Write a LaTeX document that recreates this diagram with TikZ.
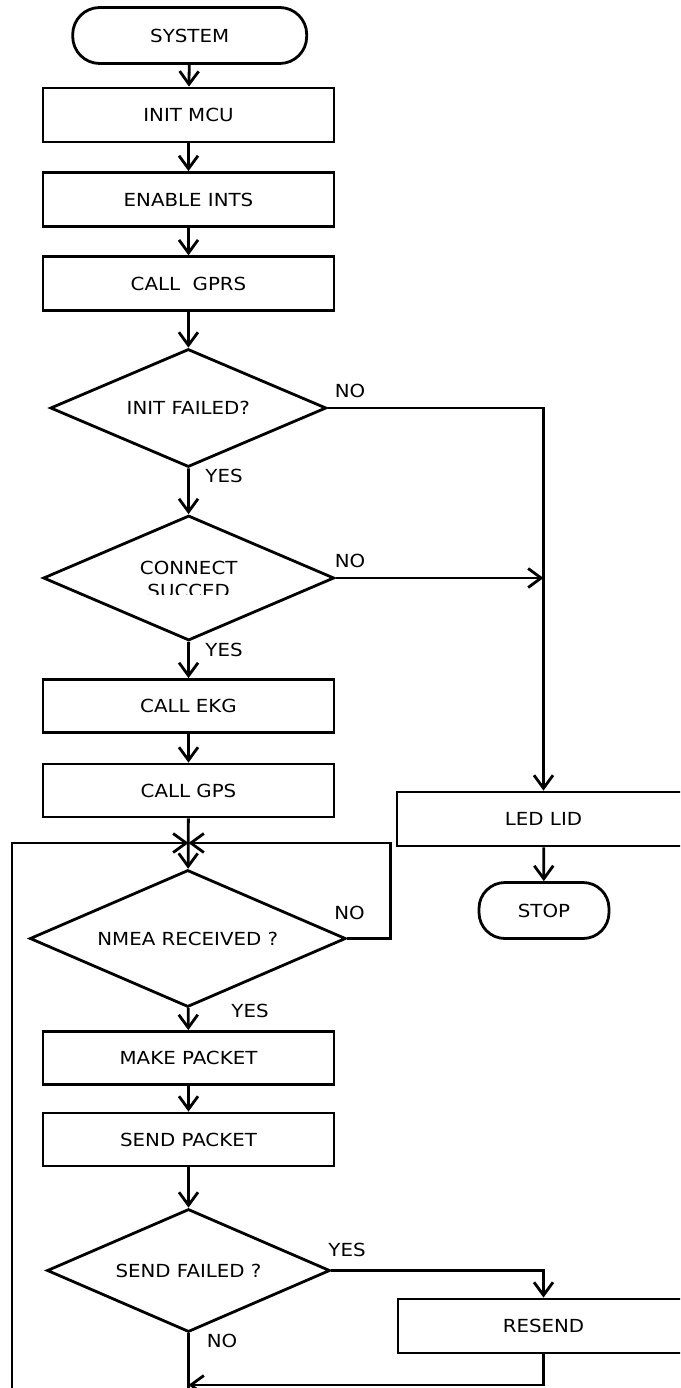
\documentclass[tikz,border=0pt]{standalone}
\usepackage{fontspec}
\setmainfont{DejaVu Sans}[FakeStretch=1.1]
\usetikzlibrary{arrows.meta,shapes.geometric}
\begin{document}
\begin{tikzpicture}[x=1pt,y=-1pt,
  font=\fontsize{18}{22}\selectfont,
  every node/.style={inner sep=0pt},
  edge/.style={line width=2.8pt},
  flow/.style={edge,-{Straight Barb[length=13pt,width=19pt]}},
  shapebase/.style={draw,line width=2.8pt,fill=white},
  procbox/.style={shapebase,rectangle,minimum width=291pt,minimum height=54pt},
  termbox/.style={shapebase,rectangle,rounded corners=27pt,minimum height=56pt},
  decision/.style={shapebase,diamond,aspect=2.3},
  lbl/.style={anchor=center}
]
\useasboundingbox (0,0) rectangle (680,1388);
\fill[white] (0,0) rectangle (680,1388);
\clip (0,0) rectangle (680,1388);

% main column
\node[termbox,minimum width=234pt] (sys) at (189.7,35.5) {SYSTEM};
\node[procbox] (init) at (188.5,115) {INIT MCU};
\node[procbox] (en) at (188.5,199.5) {ENABLE INTS};
\node[procbox] (gprs) at (188.5,283.7) {CALL\ \ GPRS};
\node[decision,minimum width=276pt,minimum height=118pt] (q1) at (188.3,408) {INIT FAILED?};
\node[decision,minimum width=291pt,minimum height=125pt] (q2) at (188.7,578) {};
\node (q2a) at (188.7,568) {CONNECT};
\begin{scope}
  \clip (0,0) rectangle (680,594.5);
  \node (q2b) at (188.7,590.5) {SUCCED};
\end{scope}
\node[procbox,minimum height=53pt] (ekg) at (188.5,706) {CALL EKG};
\node[procbox,minimum height=53pt] (gps) at (188.5,790.5) {CALL GPS};
\node[decision,minimum width=316pt,minimum height=137pt] (q3) at (187.8,938.5) {NMEA RECEIVED ?};
\node[procbox,minimum height=53pt] (mp) at (188.5,1058) {MAKE PACKET};
\node[procbox,minimum height=53pt] (sp) at (188.5,1139.5) {SEND PACKET};
\node[decision,minimum width=283pt,minimum height=123pt] (q4) at (188.5,1270.5) {SEND FAILED ?};

% right column
\node[procbox,minimum width=293pt] (led) at (543.5,819) {LED LID};
\node[termbox,minimum width=130pt,rounded corners=26pt] (stop) at (544,910.5) {STOP};
\node[procbox] (res) at (543.5,1326) {RESEND};

% junctions
\coordinate (j) at (188.5,843);
\coordinate (b) at (188.5,1385);
\coordinate (loopL) at (12,1400);

% straight flow
\draw[flow] (sys) -- (init);
\draw[flow] (init) -- (en);
\draw[flow] (en) -- (gprs);
\draw[flow] (gprs) -- (q1);
\draw[flow] (q1) -- (q2);
\draw[flow] (q2) -- (ekg);
\draw[flow] (ekg) -- (gps);
\draw[flow] (gps) -- (q3);
\draw[flow] (q3) -- (mp);
\draw[flow] (mp) -- (sp);
\draw[flow] (sp) -- (q4);
\draw[flow] (led) -- (stop);

% branches
\draw[flow] (q1.east) -| (led.north);
\draw[flow] (q2.east) -- (q2.east -| led.north);
\draw[flow] (q3.east) -- ++(43,0) |- (j);
\draw[flow] (loopL) |- (j);
\draw[flow] (q4.east) -| (res.north);
\draw[edge] (q4.south) -- (q4.south |- loopL);
\draw[flow] (res.south) |- (b);

% branch labels
\node[lbl] (l1) at (350,391) {NO};
\node[lbl] (l2) at (224,476) {YES};
\node[lbl] (l3) at (350,561) {NO};
\node[lbl] (l4) at (224,650) {YES};
\node[lbl] (l5) at (349.5,913) {NO};
\node[lbl] (l6) at (250,1010.5) {YES};
\node[lbl] (l7) at (347,1249.5) {YES};
\node[lbl] (l8) at (222,1341) {NO};
\end{tikzpicture}
\end{document}
